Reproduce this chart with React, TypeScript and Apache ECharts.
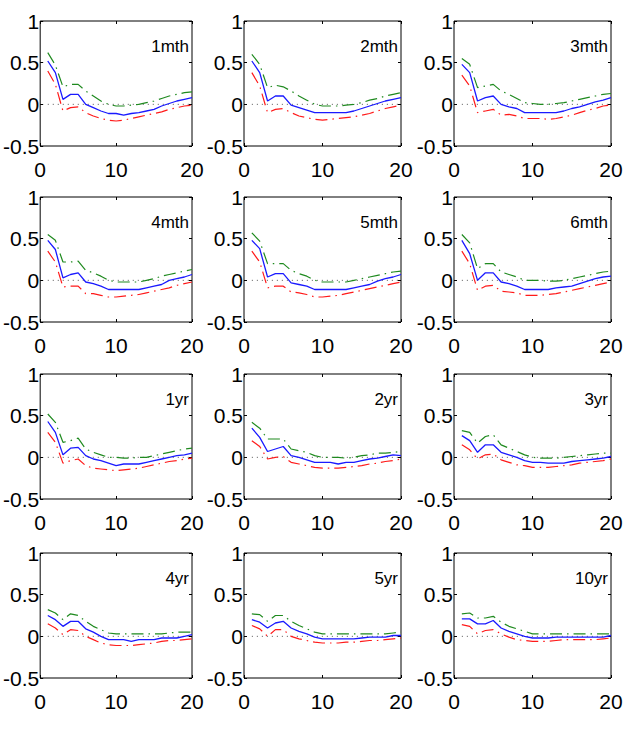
import React, { useEffect, useRef } from "react";
import * as echarts from "echarts";

const horizons = [1, 2, 3, 4, 5, 6, 7, 8, 9, 10, 11, 12, 13, 14, 15, 16, 17, 18, 19, 20];
const panelTitles = ["1mth", "2mth", "3mth", "4mth", "5mth", "6mth", "1yr", "2yr", "3yr", "4yr", "5yr", "10yr"];
const xTicks = [0, 10, 20];
const yTicks = [-0.5, 0, 0.5, 1];

const pointEstimate: number[][] = [
  [0.52, 0.38, 0.06, 0.12, 0.12, 0.0, -0.04, -0.08, -0.11, -0.11, -0.13, -0.11, -0.1, -0.08, -0.06, -0.02, 0.01, 0.04, 0.06, 0.08],
  [0.52, 0.38, 0.04, 0.1, 0.1, -0.01, -0.04, -0.07, -0.1, -0.1, -0.1, -0.1, -0.1, -0.08, -0.05, -0.02, 0.01, 0.04, 0.06, 0.08],
  [0.48, 0.38, 0.04, 0.08, 0.1, 0.0, -0.03, -0.05, -0.1, -0.1, -0.1, -0.1, -0.1, -0.08, -0.05, -0.03, 0.0, 0.03, 0.05, 0.08],
  [0.48, 0.37, 0.03, 0.07, 0.09, -0.02, -0.04, -0.07, -0.11, -0.11, -0.11, -0.11, -0.11, -0.09, -0.07, -0.05, 0.0, 0.02, 0.04, 0.07],
  [0.48, 0.38, 0.04, 0.08, 0.08, -0.03, -0.05, -0.07, -0.11, -0.11, -0.11, -0.11, -0.11, -0.09, -0.07, -0.05, -0.01, 0.02, 0.04, 0.07],
  [0.48, 0.32, 0.0, 0.09, 0.09, -0.02, -0.04, -0.07, -0.11, -0.11, -0.11, -0.11, -0.09, -0.08, -0.07, -0.04, -0.01, 0.02, 0.04, 0.05],
  [0.43, 0.3, 0.03, 0.11, 0.12, 0.02, -0.02, -0.04, -0.07, -0.1, -0.08, -0.08, -0.08, -0.06, -0.04, -0.02, 0.0, 0.02, 0.03, 0.05],
  [0.35, 0.24, 0.07, 0.1, 0.13, 0.02, 0.0, -0.03, -0.06, -0.06, -0.06, -0.08, -0.06, -0.06, -0.04, -0.02, -0.01, 0.01, 0.03, 0.02],
  [0.26, 0.2, 0.06, 0.15, 0.15, 0.06, 0.03, 0.0, -0.04, -0.06, -0.06, -0.07, -0.07, -0.07, -0.05, -0.04, -0.03, -0.02, -0.01, 0.01],
  [0.25, 0.2, 0.12, 0.18, 0.18, 0.09, 0.05, 0.0, -0.04, -0.04, -0.04, -0.06, -0.04, -0.04, -0.04, -0.02, -0.02, -0.02, 0.0, 0.02],
  [0.2, 0.17, 0.1, 0.16, 0.18, 0.1, 0.06, 0.03, -0.01, -0.03, -0.03, -0.03, -0.03, -0.03, -0.02, -0.01, -0.01, -0.01, 0.01, 0.01],
  [0.21, 0.21, 0.15, 0.15, 0.19, 0.1, 0.06, 0.03, 0.0, -0.02, -0.02, -0.02, -0.01, -0.01, -0.01, -0.01, -0.01, -0.01, -0.01, 0.01],
];

const upperBand: number[][] = [
  [0.62, 0.47, 0.21, 0.24, 0.24, 0.16, 0.1, 0.04, 0.0, -0.02, -0.02, -0.01, 0.0, 0.02, 0.04, 0.07, 0.1, 0.12, 0.14, 0.15],
  [0.6, 0.48, 0.2, 0.23, 0.21, 0.16, 0.1, 0.05, 0.0, -0.02, -0.02, -0.02, -0.01, 0.0, 0.02, 0.05, 0.07, 0.1, 0.12, 0.14],
  [0.55, 0.48, 0.2, 0.22, 0.24, 0.16, 0.12, 0.07, 0.02, 0.01, 0.0, 0.0, 0.01, 0.02, 0.04, 0.06, 0.08, 0.1, 0.12, 0.13],
  [0.55, 0.48, 0.22, 0.22, 0.23, 0.12, 0.09, 0.05, 0.0, -0.02, -0.02, -0.02, -0.02, 0.0, 0.02, 0.05, 0.07, 0.09, 0.11, 0.13],
  [0.57, 0.47, 0.2, 0.2, 0.2, 0.12, 0.08, 0.05, 0.0, -0.02, -0.02, -0.02, -0.02, 0.0, 0.02, 0.04, 0.06, 0.08, 0.1, 0.11],
  [0.55, 0.45, 0.14, 0.2, 0.2, 0.1, 0.07, 0.04, 0.0, 0.0, 0.0, -0.01, -0.01, 0.0, 0.02, 0.04, 0.06, 0.08, 0.1, 0.11],
  [0.52, 0.42, 0.18, 0.2, 0.23, 0.1, 0.06, 0.03, 0.0, 0.0, -0.01, -0.01, 0.0, 0.0, 0.02, 0.04, 0.06, 0.08, 0.1, 0.11],
  [0.42, 0.35, 0.22, 0.22, 0.22, 0.1, 0.08, 0.06, 0.02, 0.0, 0.0, 0.0, -0.01, 0.0, 0.02, 0.03, 0.05, 0.05, 0.06, 0.07],
  [0.32, 0.3, 0.17, 0.25, 0.27, 0.15, 0.11, 0.07, 0.03, 0.0, -0.01, -0.01, -0.01, 0.0, 0.01, 0.02, 0.03, 0.04, 0.05, 0.05],
  [0.32, 0.28, 0.2, 0.27, 0.25, 0.18, 0.12, 0.08, 0.04, 0.03, 0.03, 0.03, 0.03, 0.03, 0.03, 0.03, 0.04, 0.05, 0.05, 0.05],
  [0.27, 0.26, 0.18, 0.25, 0.25, 0.18, 0.13, 0.09, 0.05, 0.03, 0.03, 0.03, 0.03, 0.03, 0.03, 0.03, 0.03, 0.03, 0.04, 0.05],
  [0.27, 0.28, 0.22, 0.22, 0.24, 0.17, 0.12, 0.09, 0.06, 0.03, 0.03, 0.03, 0.03, 0.03, 0.03, 0.03, 0.03, 0.03, 0.03, 0.03],
];

const lowerBand: number[][] = [
  [0.4, 0.24, -0.08, -0.04, -0.03, -0.1, -0.14, -0.17, -0.19, -0.2, -0.19, -0.17, -0.15, -0.13, -0.11, -0.09, -0.06, -0.04, -0.02, -0.01],
  [0.38, 0.22, -0.1, -0.06, -0.05, -0.1, -0.14, -0.16, -0.18, -0.19, -0.18, -0.17, -0.16, -0.15, -0.13, -0.11, -0.08, -0.05, -0.03, -0.01],
  [0.35, 0.22, -0.1, -0.08, -0.06, -0.13, -0.12, -0.14, -0.17, -0.17, -0.17, -0.18, -0.17, -0.15, -0.13, -0.1, -0.07, -0.05, -0.02, -0.01],
  [0.35, 0.22, -0.08, -0.07, -0.07, -0.16, -0.16, -0.18, -0.2, -0.2, -0.19, -0.18, -0.17, -0.15, -0.13, -0.11, -0.09, -0.06, -0.04, -0.02],
  [0.35, 0.22, -0.09, -0.07, -0.07, -0.14, -0.15, -0.17, -0.2, -0.2, -0.19, -0.18, -0.16, -0.14, -0.12, -0.1, -0.08, -0.06, -0.04, -0.02],
  [0.35, 0.2, -0.12, -0.07, -0.06, -0.13, -0.14, -0.15, -0.18, -0.18, -0.18, -0.17, -0.16, -0.14, -0.12, -0.1, -0.08, -0.06, -0.04, -0.02],
  [0.3, 0.18, -0.07, -0.04, -0.02, -0.1, -0.13, -0.14, -0.15, -0.16, -0.15, -0.14, -0.13, -0.11, -0.09, -0.07, -0.05, -0.04, -0.02, -0.01],
  [0.2, 0.13, -0.02, 0.0, 0.01, -0.06, -0.08, -0.1, -0.12, -0.13, -0.13, -0.13, -0.12, -0.11, -0.1, -0.08, -0.07, -0.05, -0.04, -0.02],
  [0.15, 0.09, -0.02, 0.03, 0.04, -0.03, -0.06, -0.09, -0.1, -0.12, -0.12, -0.12, -0.11, -0.1, -0.09, -0.07, -0.06, -0.05, -0.04, -0.02],
  [0.15, 0.1, 0.02, 0.08, 0.07, 0.0, -0.04, -0.08, -0.1, -0.11, -0.11, -0.11, -0.1, -0.09, -0.08, -0.06, -0.05, -0.05, -0.04, -0.03],
  [0.13, 0.09, 0.0, 0.08, 0.08, 0.0, -0.03, -0.05, -0.07, -0.08, -0.08, -0.08, -0.07, -0.07, -0.06, -0.05, -0.05, -0.04, -0.03, -0.02],
  [0.14, 0.12, 0.03, 0.07, 0.08, 0.03, -0.01, -0.04, -0.05, -0.06, -0.06, -0.06, -0.05, -0.04, -0.04, -0.04, -0.04, -0.04, -0.03, -0.02],
];

const zeroLine = [0, 0];

const FONT = "'Liberation Sans', Arial, Helvetica, sans-serif";

function buildOption() {
  const colLefts = [35, 244, 454];
  const rowTops = [21, 197, 374, 553];
  const W = 157;
  const H = 125;
  const grids: any[] = [];
  const xAxes: any[] = [];
  const yAxes: any[] = [];
  const series: any[] = [];
  const graphics: any[] = [];

  panelTitles.forEach((title, i) => {
    const left = colLefts[i % 3];
    const top = rowTops[Math.floor(i / 3)];
    grids.push({
      left, top, width: W, height: H,
      show: true, borderColor: "#000", borderWidth: 1, backgroundColor: "transparent",
    });
    const xMin = xTicks[0];
    const xMax = xTicks[xTicks.length - 1];
    const xInt = xTicks[1] - xTicks[0];
    const yMin = yTicks[0];
    const yMax = yTicks[yTicks.length - 1];
    const yInt = yTicks[1] - yTicks[0];
    const tick = { show: true, inside: true, length: 3, lineStyle: { color: "#000", width: 1 } };
    const line = { show: false, onZero: false };
    xAxes.push({
      gridIndex: i, type: "value", position: "bottom", min: xMin, max: xMax, interval: xInt,
      axisLine: line, axisTick: tick, splitLine: { show: false },
      axisLabel: { fontSize: 21, fontFamily: FONT, color: "#000", margin: 13 },
    });
    xAxes.push({
      gridIndex: i, type: "value", position: "top", min: xMin, max: xMax, interval: xInt,
      axisLine: line, axisTick: tick, splitLine: { show: false }, axisLabel: { show: false },
    });
    yAxes.push({
      gridIndex: i, type: "value", position: "left", min: yMin, max: yMax, interval: yInt,
      axisLine: line, axisTick: tick, splitLine: { show: false },
      axisLabel: { fontSize: 21, fontFamily: FONT, color: "#000", margin: 1 },
    });
    yAxes.push({
      gridIndex: i, type: "value", position: "right", min: yMin, max: yMax, interval: yInt,
      axisLine: line, axisTick: tick, splitLine: { show: false }, axisLabel: { show: false },
    });
    const xi = 2 * i;
    const yi = 2 * i;
    const base = { type: "line", xAxisIndex: xi, yAxisIndex: yi, symbol: "none", showSymbol: false, silent: true };
    series.push({
      ...base, name: title + " zero",
      data: [[horizons[0], zeroLine[0]], [horizons[horizons.length - 1], zeroLine[1]]],
      lineStyle: { color: "#555", width: 1, type: [1, 4] },
    });
    series.push({
      ...base, name: title + " upper",
      data: horizons.map((h, k) => [h, upperBand[i][k]]),
      lineStyle: { color: "#1f8a1f", width: 1.2, type: [12, 5, 1.5, 5] },
    });
    series.push({
      ...base, name: title + " lower",
      data: horizons.map((h, k) => [h, lowerBand[i][k]]),
      lineStyle: { color: "#ff1a1a", width: 1.2, type: [12, 5, 1.5, 5] },
    });
    series.push({
      ...base, name: title,
      data: horizons.map((h, k) => [h, pointEstimate[i][k]]),
      lineStyle: { color: "#1a1aff", width: 1.3, type: "solid" },
    });
    graphics.push({
      type: "text", x: left + W - 3, y: top + 25,
      style: { text: title, fontSize: 17, fontFamily: FONT, fill: "#000", textAlign: "right", textVerticalAlign: "middle" },
    });
  });

  return {
    animation: false,
    backgroundColor: "#fff",
    grid: grids,
    xAxis: xAxes,
    yAxis: yAxes,
    series,
    graphic: graphics,
  };
}

export default function App() {
  const ref = useRef<HTMLDivElement>(null);
  useEffect(() => {
    document.body.style.margin = "0";
    if (!ref.current) return;
    const chart = echarts.init(ref.current, undefined, { renderer: "svg" });
    chart.setOption(buildOption() as any);
    return () => chart.dispose();
  }, []);
  return <div ref={ref} style={{ width: 627, height: 731, background: "#fff" }} />;
}
